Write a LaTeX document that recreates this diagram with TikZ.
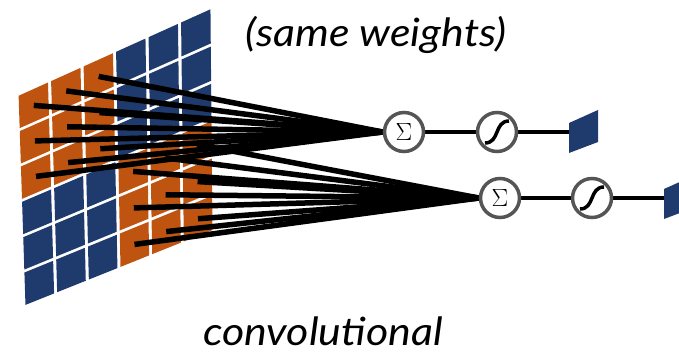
\documentclass[tikz,border=0pt]{standalone}
\usepackage{fontspec}
\setmainfont{Lato}
\newfontfamily\lblfont[FakeStretch=1.1]{Lato}
\definecolor{gblue}{HTML}{1F3B6E}
\definecolor{gorange}{HTML}{BF5410}
\definecolor{ring}{HTML}{555555}
\newcommand\gpt[4]{%
 \pgfmathsetmacro#3{(1-(#1))*(1-(#2))*17+(#1)*(1-(#2))*212+(#1)*(#2)*214+(1-(#1))*(#2)*24}%
 \pgfmathsetmacro#4{(1-(#1))*(1-(#2))*95+(#1)*(1-(#2))*7+(#1)*(#2)*231+(1-(#1))*(#2)*307}}
\pgfdeclarelayer{front}
\pgfsetlayers{main,front}
\begin{document}
\begin{tikzpicture}[x=1pt,y=-1pt,
  opnode/.style={circle,draw=ring,line width=3.5pt,fill=white,minimum size=39pt,inner sep=0pt},
  wire/.style={line width=5.5pt,black},
  link/.style={line width=4.5pt,black},
  sigcurve/.style={line width=3.5pt,black},
  lbl/.style={font=\lblfont\fontsize{39}{42}\selectfont\itshape,inner sep=0pt,anchor=base}]
\useasboundingbox (0,0) rectangle (679,353);
\clip (0,0) rectangle (679,353);
% grid
\foreach \i in {0,...,5}{\foreach \j in {0,...,5}{
  \pgfmathsetmacro\sA{\i/6+0.008}
  \pgfmathsetmacro\sB{(\i+1)/6-0.008}
  \pgfmathsetmacro\tA{\j/6+0.007}
  \pgfmathsetmacro\tB{(\j+1)/6-0.007}
  \pgfmathsetmacro\sM{(\i+0.5)/6}
  \pgfmathsetmacro\tM{(\j+0.5)/6}
  \gpt{\sA}{\tA}{\xa}{\ya}\gpt{\sB}{\tA}{\xb}{\yb}\gpt{\sB}{\tB}{\xc}{\yc}\gpt{\sA}{\tB}{\xd}{\yd}\gpt{\sM}{\tM}{\xm}{\ym}
  \pgfmathtruncatemacro\isor{((\i<3)&&(\j<3))||((\i>2)&&(\j>2))}
  \ifnum\isor=1 \def\cc{gorange}\else\def\cc{gblue}\fi
  \fill[\cc] (\xa,\ya) -- (\xb,\yb) -- (\xc,\yc) -- (\xd,\yd) -- cycle;
  \coordinate (c\i\j) at (\xm,\ym);
}}
% operator nodes
\begin{pgfonlayer}{front}
\node[opnode] (s1) at (404,132) {\fontsize{28}{28}\selectfont$\Sigma$};
\node[opnode] (g1) at (497,132) {};
\node[opnode] (s2) at (500,198) {\fontsize{28}{28}\selectfont$\Sigma$};
\node[opnode] (g2) at (592,198) {};
\foreach \g in {g1,g2}{
  \draw[sigcurve] ([shift={(-12,11)}]\g.center) .. controls ([shift={(3,11)}]\g.center) and ([shift={(-3,-11)}]\g.center) .. ([shift={(12,-11)}]\g.center);
}
\end{pgfonlayer}
% outputs
\coordinate (o1) at (569,132);
\coordinate (o2) at (664,198);
\foreach \o in {o1,o2}{
  \fill[gblue] ([shift={(0,-9)}]\o) -- ([shift={(29,-22)}]\o) -- ([shift={(29,10)}]\o) -- ([shift={(0,21)}]\o) -- cycle;
}
% wires
\foreach \i in {0,1,2}{\foreach \j in {0,1,2}{\draw[wire] (c\i\j) -- (s1.west);}}
\foreach \i in {3,4,5}{\foreach \j in {3,4,5}{\draw[wire] (c\i\j) -- (s2.west);}}
\draw[link] (s1) -- (g1);
\draw[link] (g1) -- (o1);
\draw[link] (s2) -- (g2);
\draw[link] (g2) -- (o2);
% labels
\node[lbl] (t1) at (376,47) {(same weights)};
\node[lbl] (t2) at (323,345) {convolutional};
\end{tikzpicture}
\end{document}
